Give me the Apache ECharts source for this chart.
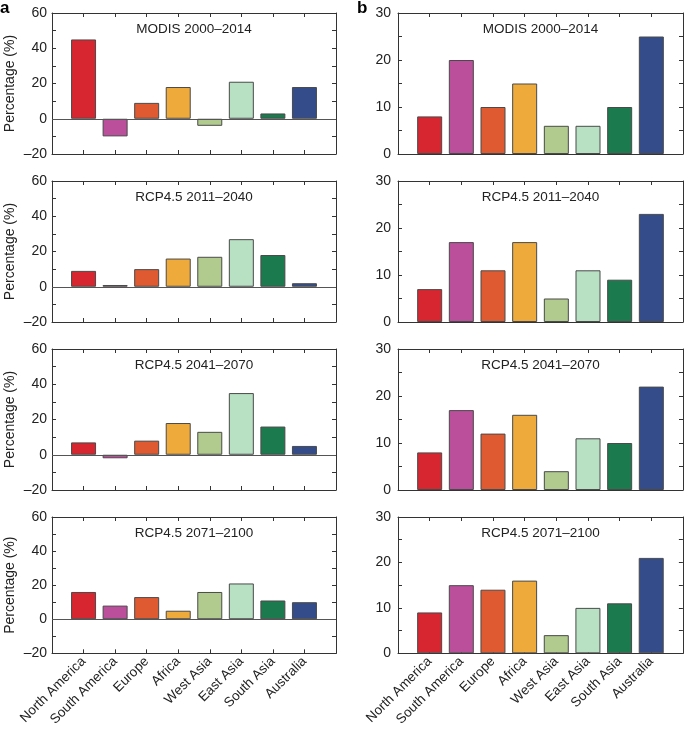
<!DOCTYPE html>
<html>
<head>
<meta charset="utf-8">
<script src="https://cdn.jsdelivr.net/npm/echarts@6/dist/echarts.min.js"></script>
<style>
html,body{margin:0;padding:0;background:#fff;}
#chart{width:685px;height:729px;}
</style>
</head>
<body>
<div id="chart"></div>
<script>
// ---- data ----
const categories = ['North America','South America','Europe','Africa','West Asia','East Asia','South Asia','Australia'];
const periods = ['MODIS 2000–2014','RCP4.5 2011–2040','RCP4.5 2041–2070','RCP4.5 2071–2100'];
const a_modis   = [45, -10, 9, 18, -4, 21, 3, 18];
const a_2011    = [9, 1, 10, 16, 17, 27, 18, 2];
const a_2041    = [7, -2, 8, 18, 13, 35, 16, 5];
const a_2071    = [16, 8, 13, 5, 16, 21, 11, 10];
const b_modis   = [8, 20, 10, 15, 6, 6, 10, 25];
const b_2011    = [7, 17, 11, 17, 5, 11, 9, 23];
const b_2041    = [8, 17, 12, 16, 4, 11, 10, 22];
const b_2071    = [9, 15, 14, 16, 4, 10, 11, 21];
const aTicks = [-20, 0, 20, 40, 60];
const bTicks = [0, 10, 20, 30];

// ---- style ----
const colors = ['#d7262f','#bb4f9b','#df5a31','#eeab3c','#b1cb8f','#b8e0c3','#1c7a4f','#344d8a'];
const FONT = 'Liberation Sans, Arial, sans-serif';
const TXT = '#222';
const LINE = '#333';

const panelsA = [a_modis, a_2011, a_2041, a_2071];
const panelsB = [b_modis, b_2011, b_2041, b_2071];
const tops = [13, 181, 349, 517];
const H = 141;
const cols = [{left:52, width:284}, {left:398, width:285}];

const grid = [], xAxis = [], yAxis = [], series = [], graphic = [];

function fmtNum(v){ return v < 0 ? '–' + (-v) : String(v); }

for (let r = 0; r < 4; r++) {
  for (let c = 0; c < 2; c++) {
    const g = r*2 + c;
    const col = cols[c];
    grid.push({left: col.left, top: tops[r], width: col.width, height: H, containLabel: false});
    const isBottom = r === 3;
    xAxis.push({
      type: 'value', gridIndex: g, min: 0, max: 9, interval: 1, position: 'bottom',
      axisLine: {show: true, onZero: false, lineStyle: {color: LINE, width: 1}},
      axisTick: {show: true, inside: true, length: 4, lineStyle: {color: LINE}},
      splitLine: {show: false},
      axisLabel: {
        show: isBottom, rotate: 45, margin: 6, color: TXT, fontFamily: FONT, fontSize: 13.5,
        formatter: v => (v >= 1 && v <= 8) ? categories[v-1] : ''
      }
    });
    xAxis.push({
      type: 'value', gridIndex: g, min: 0, max: 9, interval: 1, position: 'top',
      axisLine: {show: true, onZero: false, lineStyle: {color: LINE, width: 1}},
      axisTick: {show: true, inside: true, length: 4, lineStyle: {color: LINE}},
      splitLine: {show: false}, axisLabel: {show: false}
    });
    const isA = c === 0;
    const ticks = isA ? aTicks : bTicks;
    const yMin = ticks[0], yMax = ticks[ticks.length-1];
    const step = isA ? 10 : 5;
    yAxis.push({
      type: 'value', gridIndex: g, min: yMin, max: yMax, interval: step, position: 'left',
      name: isA ? 'Percentage (%)' : '', nameLocation: 'middle', nameGap: 35,
      nameTextStyle: {color: TXT, fontFamily: FONT, fontSize: 14},
      axisLine: {show: true, onZero: false, lineStyle: {color: LINE, width: 1}},
      axisTick: {show: true, inside: true, length: 4, lineStyle: {color: LINE}},
      splitLine: {show: false},
      axisLabel: {
        show: true, margin: isA ? 5 : 7, color: TXT, fontFamily: FONT, fontSize: 14,
        formatter: v => ticks.indexOf(v) >= 0 ? fmtNum(v) : ''
      }
    });
    yAxis.push({
      type: 'value', gridIndex: g, min: yMin, max: yMax, interval: step, position: 'right',
      axisLine: {show: true, onZero: false, lineStyle: {color: LINE, width: 1}},
      axisTick: {show: true, inside: true, length: 4, lineStyle: {color: LINE}},
      splitLine: {show: false}, axisLabel: {show: false}
    });
    const vals = isA ? panelsA[r] : panelsB[r];
    const s = {
      type: 'bar', xAxisIndex: g*2, yAxisIndex: g*2, barWidth: 25,
      silent: true, animation: false,
      data: vals.map((v, i) => ({value: [i+1, v], itemStyle: {color: colors[i]}})),
      itemStyle: {borderColor: '#4a4a4a', borderWidth: 1}
    };
    if (isA) {
      s.markLine = {
        silent: true, symbol: 'none', animation: false,
        label: {show: false},
        lineStyle: {color: '#555', width: 1, type: 'solid'},
        data: [{yAxis: 0}]
      };
    }
    series.push(s);
    graphic.push({
      type: 'text', x: col.left + col.width/2, y: tops[r] + 9, silent: true,
      style: {text: periods[r], align: 'center', verticalAlign: 'top', fill: TXT,
              fontFamily: FONT, fontSize: 13.5}
    });
  }
}
graphic.push({type: 'text', x: 0, y: 0, style: {text: 'a', fontFamily: FONT, fontSize: 17, fontWeight: 'bold', fill: '#000'}});
graphic.push({type: 'text', x: 357, y: 0, style: {text: 'b', fontFamily: FONT, fontSize: 17, fontWeight: 'bold', fill: '#000'}});

const chart = echarts.init(document.getElementById('chart'), null, {renderer: 'canvas'});
chart.setOption({
  animation: false,
  backgroundColor: '#fff',
  grid, xAxis, yAxis, series, graphic
});
</script>
</body>
</html>
